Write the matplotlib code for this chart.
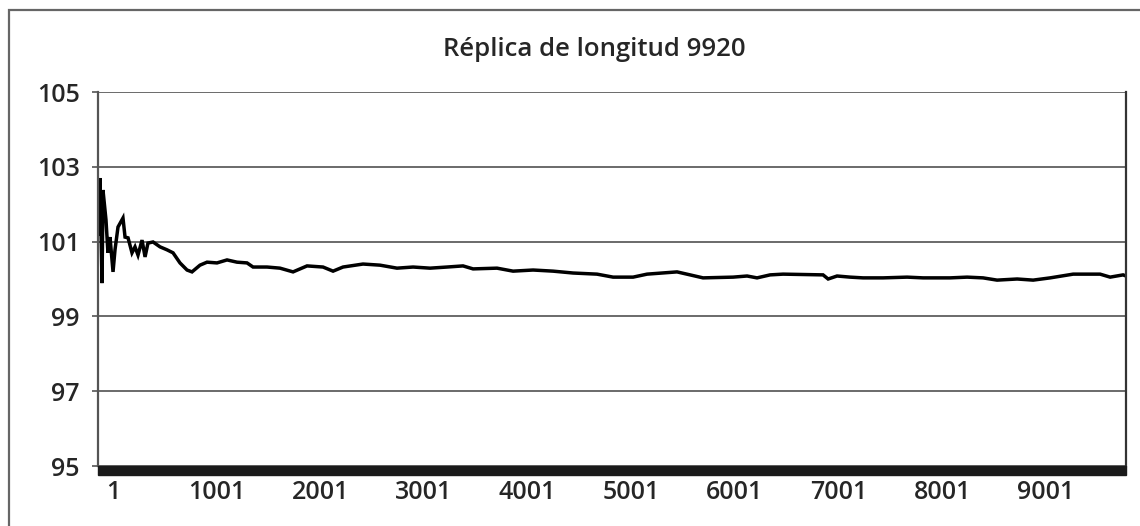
import matplotlib
matplotlib.use('Agg')
import matplotlib.pyplot as plt
import matplotlib.transforms as mtransforms
from matplotlib.patches import Rectangle
import numpy as np

plt.rcParams['font.family'] = ['Open Sans', 'DejaVu Sans']

obs_index = [1, 20, 40, 49, 78, 97, 117, 146, 165, 194, 242, 262, 291, 329, 358,
             387, 426, 455, 483, 532, 599, 667, 725, 792, 860, 908, 985, 1053,
             1149, 1246, 1342, 1439, 1497, 1632, 1757, 1883, 2018, 2172, 2269,
             2365, 2558, 2722, 2886, 3041, 3205, 3369, 3523, 3620, 3851, 4006,
             4199, 4392, 4585, 4816, 4971, 5164, 5299, 5588, 5714, 5839, 6129,
             6264, 6360, 6486, 6611, 6997, 7046, 7132, 7258, 7383, 7576, 7808,
             7962, 8223, 8387, 8541, 8676, 8870, 9024, 9188, 9410, 9670, 9767,
             9892, 9920]
obs_value = [101.2, 102.70, 99.89, 102.38, 101.58, 100.70, 101.12, 100.19, 100.78,
             101.39, 101.63, 101.12, 101.10, 100.70, 100.86, 100.64, 101.04,
             100.59, 100.96, 100.99, 100.86, 100.78, 100.70, 100.43, 100.24,
             100.19, 100.37, 100.45, 100.43, 100.51, 100.45, 100.43, 100.32,
             100.32, 100.29, 100.19, 100.35, 100.32, 100.21, 100.32, 100.40,
             100.37, 100.29, 100.32, 100.29, 100.32, 100.35, 100.27, 100.29,
             100.21, 100.24, 100.21, 100.16, 100.13, 100.05, 100.05, 100.13,
             100.19, 100.11, 100.03, 100.05, 100.08, 100.03, 100.11, 100.13,
             100.11, 100.00, 100.08, 100.05, 100.03, 100.03, 100.05, 100.03,
             100.03, 100.05, 100.03, 99.97, 100.00, 99.97, 100.03, 100.13,
             100.13, 100.05, 100.11, 100.08]

x_ticks = [1, 1001, 2001, 3001, 4001, 5001, 6001, 7001, 8001, 9001]
y_ticks = [95, 97, 99, 101, 103, 105]
title = 'Réplica de longitud 9920'

fig = plt.figure(figsize=(11.4, 5.26), dpi=100)
ax = fig.add_axes([98 / 1140, 60 / 526, 1028 / 1140, 374 / 526])

ax.plot(obs_index, obs_value, color='black', lw=2.5, solid_joinstyle='miter')

ax.set_xlim(1, 9920)
ax.set_ylim(95, 105)
ax.set_yticks(y_ticks)
ax.set_xticks(x_ticks)
ax.set_xticklabels([str(t) for t in x_ticks])

ax.yaxis.grid(True, color='#6a6a6a', lw=1.4)
ax.set_axisbelow(True)
ax.tick_params(axis='y', length=4, width=1.2, color='#555555', pad=9,
               labelsize=18, labelcolor='#262626')
ax.tick_params(axis='x', length=0, pad=10, labelsize=18, labelcolor='#262626')
for lab in ax.get_xticklabels() + ax.get_yticklabels():
    lab.set_fontweight('semibold')

# nudge the category labels a bit to the right, as in the original
offset = mtransforms.ScaledTranslation(0.15, 0, fig.dpi_scale_trans)
for lab in ax.get_xticklabels():
    lab.set_transform(lab.get_transform() + offset)

ax.spines['top'].set_visible(False)
ax.spines['bottom'].set_visible(False)
ax.spines['left'].set_color('#555555')
ax.spines['left'].set_linewidth(1.6)
ax.spines['right'].set_color('#333333')
ax.spines['right'].set_linewidth(1.6)

# dense category tick marks appear as a solid black band under the axis
ax.add_patch(Rectangle((0, -0.025), 1, 0.025, transform=ax.transAxes,
                       color='#1a1a1a', clip_on=False, zorder=5))

fig.text(594 / 1140, 1 - 49 / 526, title, ha='center', va='center',
         fontsize=18.5, fontweight='semibold', color='#262626')

# chart frame
fig.add_artist(Rectangle((9 / 1140, -0.1), 1.0, 1.1 - 10 / 526,
                         transform=fig.transFigure, fill=False,
                         edgecolor='#666666', lw=1.6))

fig.savefig('out.png', dpi=100)
